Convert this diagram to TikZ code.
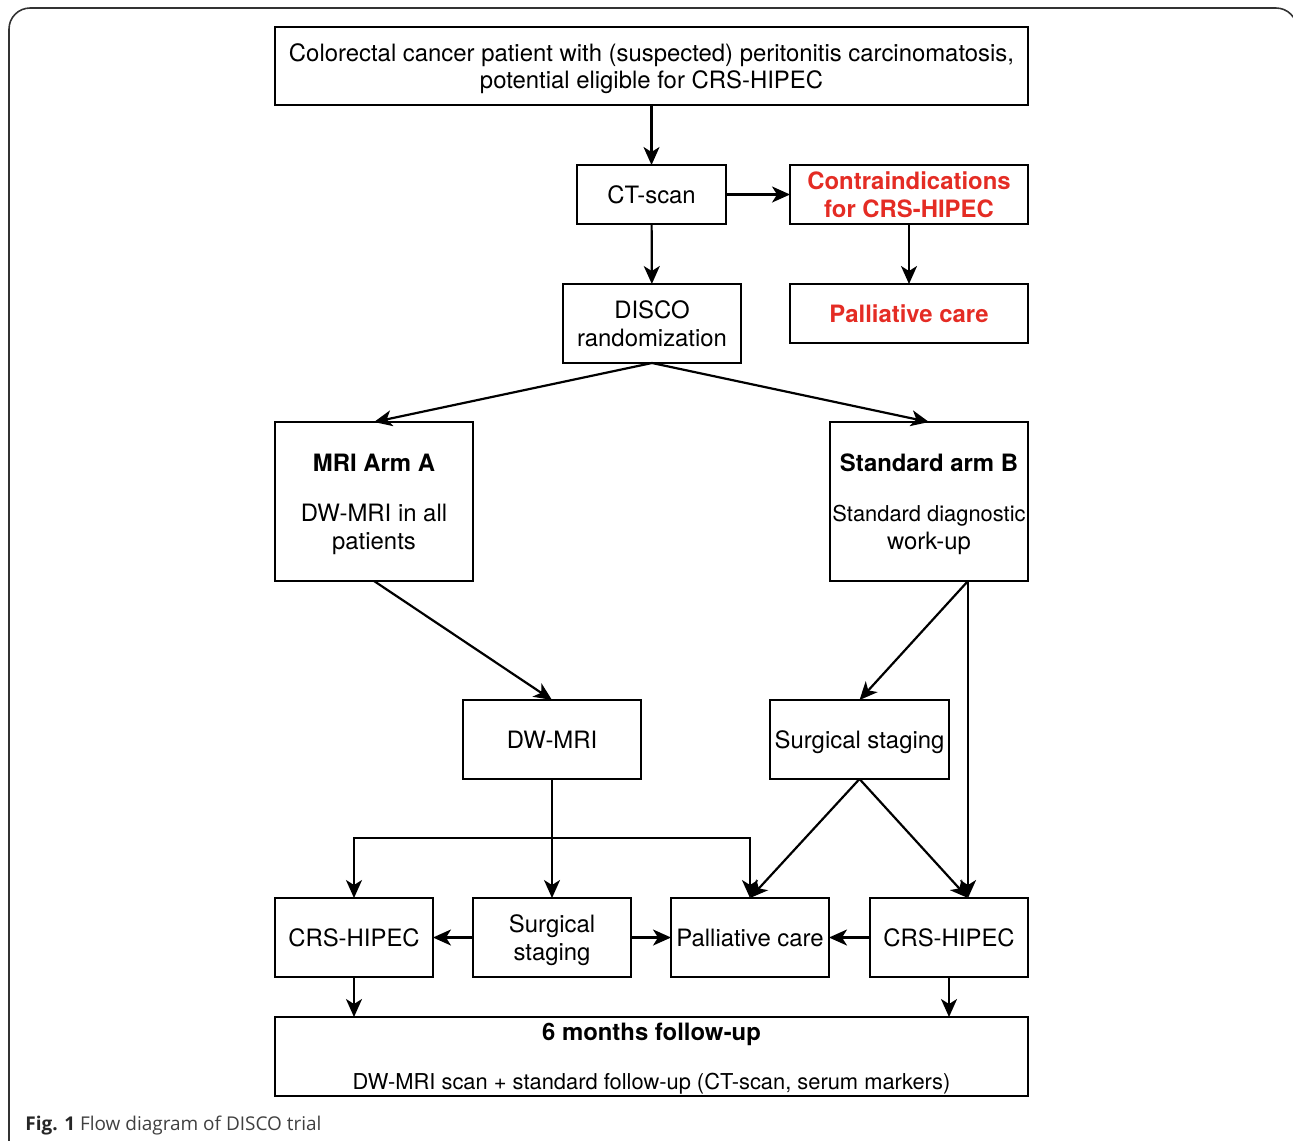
\documentclass[tikz,border=0pt]{standalone}
\usepackage{fontspec}
\setmainfont{TeX Gyre Heros}
\newfontfamily\captionfont{Open Sans}
\usepackage{tikz}
\usetikzlibrary{arrows.meta}
\usetikzlibrary{calc}
\usepackage{xcolor}
\definecolor{alertred}{RGB}{228,44,36}
\definecolor{framegray}{RGB}{50,50,50}
\newcommand{\narrowtext}{\fontsize{12.45}{15.6}\selectfont}
\tikzstyle{box}=[draw,rectangle,line width=1.25pt,align=center,inner sep=0,outer sep=0,text depth=-0.05cm,font=\fontsize{13.6}{15.6}\selectfont]
\tikzstyle{box small}=[box,minimum width=3.16cm,minimum height=1.58cm]
\tikzstyle{box mid}=[box,minimum width=3.56cm,minimum height=1.58cm]
\tikzstyle{box arm}=[box,minimum width=3.96cm,minimum height=3.18cm]
\tikzstyle{box wide}=[box,minimum width=15.06cm,minimum height=1.58cm]
\tikzstyle{box red}=[box,minimum width=4.76cm,minimum height=1.18cm,text=alertred,font=\fontsize{13.6}{15.6}\selectfont\bfseries]
\tikzstyle{arr}=[line width=1.25pt,-{Stealth[length=0.36cm,width=0.32cm,inset=0.1cm]}]

\begin{document}
\begin{tikzpicture}[x=0.02cm,y=-0.02cm]
		\useasboundingbox (0,0) rectangle (1293,1140);
		\draw[framegray,line width=0.9pt,rounded corners=12] (9,1160) -- (9,8) -- (1297,8) -- (1297,1160);

		\node[box wide,minimum height=1.56cm](patient) at (651.5,66){Colorectal cancer patient with (suspected) peritonitis carcinomatosis,\\potential eligible for CRS-HIPEC};

		\node[box,minimum width=2.98cm,minimum height=1.18cm](ct) at (651.5,194.5){CT-scan};
		\node[box red](contra) at (909,194.5){Contraindications\\for CRS-HIPEC};

		\node[box mid](disco) at (652,323.5){DISCO\\randomization};
		\node[box red](palred) at (909,313.5){Palliative care};

		\node[box arm](armA) at (374,501.5){\textbf{MRI Arm A}\\[0.46cm]DW-MRI in all\\patients};
		\node[box arm](armB) at (929,501.5){\textbf{Standard arm B}\\[0.46cm]{\narrowtext Standard diagnostic}\\work-up};

		\node[box mid](dwmri) at (552,739.5){DW-MRI};
		\node[box mid,minimum width=3.58cm](surgB) at (859.5,739.5){Surgical staging};

		\node[box small](crsA) at (354,937.5){CRS-HIPEC};
		\node[box small](surgA) at (552,937.5){Surgical\\staging};
		\node[box small](pallB) at (750,937.5){Palliative care};
		\node[box small](crsB) at (949,937.5){CRS-HIPEC};

		\node[box wide](follow) at (651.5,1056.5){\textbf{6 months follow-up}\\[0.44cm]{\narrowtext DW-MRI scan + standard follow-up (CT-scan, serum markers)}};

		\node[anchor=west,inner sep=0,font=\captionfont\fontsize{10.8}{13}\selectfont,text=black!75](caption) at (25,1125){\textbf{\color{black!85}Fig. 1} Flow diagram of DISCO trial};

		\coordinate (fork) at (552,838);
		\coordinate (armBout) at ($(armB.south)+(39,0)$);
		\coordinate (crsBin) at (armBout |- crsB.north);
%screening
		\draw[arr] (patient) -- (ct);
		\draw[arr] (ct) -- (contra);
		\draw[arr] (ct) -- (disco);
		\draw[arr] (contra) -- (palred);
% randomization to arms
		\draw[arr] (disco.south) -- (armA.north);
		\draw[arr] (disco.south) -- (armB.north);
% arm A
		\draw[arr] (armA.south) -- (dwmri.north);
		\draw[arr] (dwmri) -- (surgA);
		\draw[arr] (fork) -| (crsA.north);
		\draw[arr] (fork) -| (pallB.north);
% arm B
		\draw[arr] (armBout) -- (surgB.north);
		\draw[arr] (armBout) -- (crsBin);
		\draw[arr] (surgB.south) -- (pallB.north);
		\draw[arr] (surgB.south) -- (crsBin);
% treatment
		\draw[arr] (surgA) -- (crsA);
		\draw[arr] (surgA) -- (pallB);
		\draw[arr] (crsB) -- (pallB);
% follow-up
		\draw[arr] (crsA.south) -- (crsA.south |- follow.north);
		\draw[arr] (crsB.south) -- (crsB.south |- follow.north);
	\end{tikzpicture}
\end{document}
